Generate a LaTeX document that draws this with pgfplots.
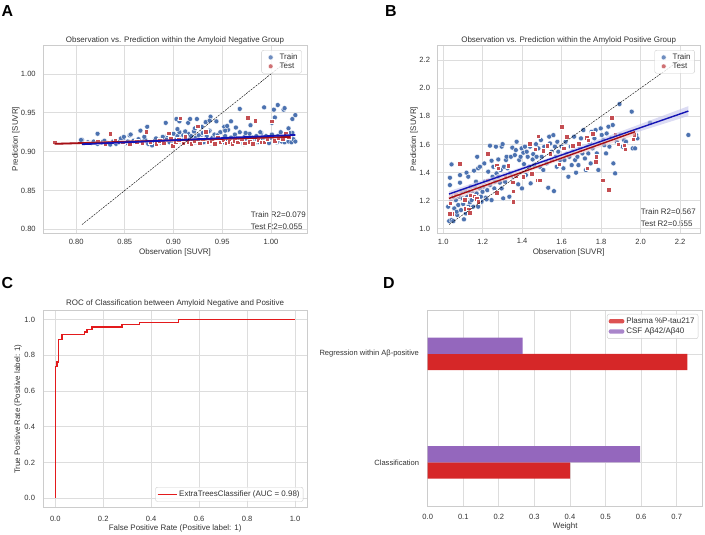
\documentclass[border=0pt]{standalone}
\usepackage{fontspec}
\setmainfont{Liberation Sans}
\usepackage{pgfplots}
\pgfplotsset{compat=1.18}
\definecolor{trainblue}{HTML}{4C72B0}
\definecolor{testred}{HTML}{C44E52}
\definecolor{lineblue}{HTML}{1414B4}
\definecolor{linered}{HTML}{A50F15}
\definecolor{rocred}{HTML}{E31A1C}
\definecolor{barred}{HTML}{D62728}
\definecolor{barpurple}{HTML}{9467BD}
\definecolor{gridc}{HTML}{DDDDDD}
\definecolor{framec}{HTML}{CCCCCC}
\definecolor{textc}{HTML}{333333}
\pgfplotsset{
 sns/.style={
  scale only axis,
  clip marker paths=true,
  axis line style={draw=framec, line width=0.9bp},
  grid=major,
  grid style={draw=gridc, line width=0.8bp},
  major tick length=0pt,
  tick style={draw=none},
  tick label style={font=\fontsize{7.6}{9}\selectfont, text=textc},
  xticklabel style={yshift=-2.2bp},
  yticklabel style={xshift=-3.8bp},
  label style={font=\fontsize{8}{9.6}\selectfont, text=textc},
  /pgf/number format/assume math mode=true,
  legend style={font=\fontsize{8}{9.6}\selectfont, text=textc, draw=framec, rounded corners=2bp, fill=white, fill opacity=0.8, text opacity=1},
  legend cell align=left,
 },
 scatlegend/.style={
  legend style={inner xsep=2bp, inner ysep=1.5bp, row sep=-2.2bp},
 },
 trainm/.style={only marks, mark=*, mark size=2.5bp, mark options={fill=trainblue, draw=white, line width=0.35bp},
   legend image code/.code={\path[draw=none, fill=none] (0bp,0bp) -- (14bp,0bp); \path[draw=white, line width=0.35bp, fill=trainblue] (7bp,0bp) circle[radius=2.5bp];}},
 testm/.style={only marks, mark=square*, mark size=2.3bp, mark options={fill=testred, draw=white, line width=0.35bp},
   legend image code/.code={\path[draw=none, fill=none] (0bp,0bp) -- (14bp,0bp); \path[draw=white, line width=0.35bp, fill=testred] (4.7bp,-2.3bp) rectangle (9.3bp,2.3bp);}},
}
\begin{document}
\begin{tikzpicture}
\path[use as bounding box] (0,0) rectangle (705bp,535bp);
% panel letters
\node[anchor=base west, inner sep=0pt, font=\fontsize{16}{16}\selectfont\bfseries] at (1.5bp,518.8bp) {A};
\node[anchor=base west, inner sep=0pt, font=\fontsize{16}{16}\selectfont\bfseries] at (385bp,518.8bp) {B};
\node[anchor=base west, inner sep=0pt, font=\fontsize{16}{16}\selectfont\bfseries] at (1.5bp,246.5bp) {C};
\node[anchor=base west, inner sep=0pt, font=\fontsize{16}{16}\selectfont\bfseries] at (383bp,246.7bp) {D};
% titles
\node[anchor=base, inner sep=0pt, font=\fontsize{8}{9.6}\selectfont, text=textc] at (175bp,492.8bp) {Observation vs. Prediction within the Amyloid Negative Group};
\node[anchor=base, inner sep=0pt, font=\fontsize{8}{9.6}\selectfont, text=textc] at (568.7bp,492.8bp) {Observation vs. Prediction within the Amyloid Positive Group};
\node[anchor=base, inner sep=0pt, font=\fontsize{8}{9.6}\selectfont, text=textc] at (175.2bp,229.4bp) {ROC of Classification between Amyloid Negative and Positive};
% R2 texts
\node[anchor=base west, inner sep=0pt, font=\fontsize{8}{9.6}\selectfont, text=textc] at (250.7bp,317.8bp) {Train R2=0.079};
\node[anchor=base west, inner sep=0pt, font=\fontsize{8}{9.6}\selectfont, text=textc] at (250.7bp,305.4bp) {Test R2=0.055};
\node[anchor=base west, inner sep=0pt, font=\fontsize{8}{9.6}\selectfont, text=textc] at (640.7bp,320.4bp) {Train R2=0.567};
\node[anchor=base west, inner sep=0pt, font=\fontsize{8}{9.6}\selectfont, text=textc] at (640.7bp,308.8bp) {Test R2=0.555};

%================ A ================
\begin{axis}[sns, scatlegend, at={(43bp,302bp)}, anchor=south west, width=264bp, height=188bp,
  xmin=0.766, xmax=1.037, ymin=0.7952, ymax=1.0373,
  xtick={0.80,0.85,0.90,0.95,1.00}, ytick={0.80,0.85,0.90,0.95,1.00},
  xticklabel style={/pgf/number format/.cd, fixed, fixed zerofill, precision=2},
  yticklabel style={/pgf/number format/.cd, fixed, fixed zerofill, precision=2},
  xlabel={Observation [SUVR]}, ylabel={Prediction [SUVR]},
  xlabel style={at={(axis description cs:0.5,-0.1165)}, anchor=base},
  ylabel style={at={(axis description cs:-0.0951,0.5)}, anchor=base},
  legend style={at={(axis description cs:0.98,0.973)}, anchor=north east},
]
\addplot[trainm] table {
0.806 0.915
0.812 0.912
0.815 0.911
0.818 0.913
0.822 0.910
0.826 0.912
0.829 0.914
0.832 0.911
0.835 0.909
0.838 0.913
0.841 0.910
0.844 0.912
0.848 0.915
0.851 0.911
0.853 0.913
0.856 0.910
0.859 0.914
0.861 0.912
0.864 0.916
0.866 0.911
0.869 0.913
0.871 0.915
0.874 0.910
0.876 0.912
0.878 0.908
0.880 0.914
0.882 0.917
0.884 0.912
0.886 0.915
0.888 0.911
0.889 0.919
0.891 0.913
0.893 0.916
0.894 0.921
0.896 0.912
0.897 0.918
0.899 0.914
0.900 0.923
0.901 0.911
0.903 0.916
0.904 0.920
0.905 0.913
0.906 0.925
0.908 0.917
0.909 0.912
0.910 0.921
0.911 0.915
0.912 0.918
0.914 0.913
0.915 0.923
0.916 0.911
0.917 0.916
0.918 0.920
0.920 0.914
0.921 0.926
0.922 0.912
0.923 0.918
0.925 0.915
0.926 0.921
0.927 0.913
0.929 0.917
0.930 0.924
0.931 0.912
0.933 0.916
0.934 0.920
0.935 0.914
0.937 0.927
0.938 0.911
0.940 0.918
0.941 0.915
0.942 0.922
0.944 0.912
0.945 0.917
0.947 0.913
0.948 0.925
0.950 0.916
0.951 0.912
0.953 0.920
0.954 0.914
0.956 0.928
0.957 0.911
0.959 0.918
0.960 0.915
0.962 0.913
0.963 0.922
0.965 0.917
0.967 0.912
0.968 0.925
0.970 0.914
0.972 0.910
0.973 0.919
0.975 0.916
0.976 0.912
0.978 0.923
0.980 0.914
0.981 0.918
0.983 0.911
0.985 0.920
0.986 0.915
0.988 0.912
0.990 0.924
0.991 0.917
0.993 0.913
0.995 0.920
0.996 0.915
0.998 0.911
1.000 0.918
1.001 0.922
1.003 0.913
1.004 0.917
1.006 0.912
1.007 0.920
1.009 0.915
1.010 0.925
1.011 0.913
1.013 0.918
1.014 0.912
1.016 0.921
1.017 0.915
1.018 0.913
1.020 0.919
1.021 0.912
1.022 0.924
1.023 0.916
1.025 0.913
0.805 0.915
0.822 0.923
0.846 0.917
0.849 0.919
0.855 0.921
0.856 0.922
0.866 0.927
0.870 0.919
0.873 0.932
0.892 0.937
0.903 0.942
0.904 0.929
0.906 0.939
0.912 0.926
0.915 0.937
0.917 0.942
0.922 0.930
0.924 0.942
0.929 0.932
0.933 0.938
0.936 0.926
0.938 0.945
0.937 0.940
0.944 0.939
0.945 0.921
0.952 0.932
0.953 0.927
0.955 0.933
0.959 0.939
0.964 0.931
0.968 0.955
0.974 0.924
0.979 0.934
0.989 0.925
0.993 0.957
1.001 0.937
1.003 0.954
1.004 0.944
1.007 0.960
1.013 0.954
1.014 0.956
1.018 0.930
1.019 0.924
1.022 0.942
1.025 0.947
};
\addlegendentry{Train}
\addplot[testm] table {
0.778 0.912
0.812 0.911
0.822 0.913
0.830 0.910
0.835 0.923
0.840 0.914
0.848 0.912
0.855 0.910
0.862 0.913
0.868 0.911
0.872 0.926
0.876 0.913
0.882 0.910
0.886 0.914
0.890 0.911
0.895 0.924
0.897 0.917
0.899 0.908
0.902 0.912
0.905 0.915
0.907 0.943
0.910 0.911
0.912 0.919
0.915 0.913
0.918 0.910
0.921 0.914
0.925 0.933
0.927 0.911
0.930 0.916
0.933 0.926
0.936 0.912
0.939 0.914
0.942 0.910
0.945 0.918
0.948 0.912
0.951 0.915
0.954 0.911
0.957 0.913
0.960 0.910
0.963 0.914
0.966 0.912
0.970 0.916
0.973 0.911
0.976 0.944
0.978 0.913
0.981 0.910
0.984 0.940
0.987 0.915
0.990 0.912
0.993 0.912
0.996 0.917
1.001 0.939
1.004 0.914
1.008 0.918
1.012 0.916
1.015 0.924
1.018 0.919
};
\addlegendentry{Test}
\addplot[forget plot, fill=testred!40, draw=none, opacity=0.6] coordinates {(0.778,0.9085) (1.020,0.9175) (1.020,0.9205) (0.778,0.9115)};
\addplot[forget plot, linered, line width=1.8bp] coordinates {(0.778,0.910) (1.020,0.919)};
\addplot[forget plot, lineblue, line width=1.8bp] coordinates {(0.806,0.9095) (1.025,0.9215)};
\addplot[forget plot, black, line width=0.4bp, dash pattern=on 2bp off 1bp] coordinates {(0.806,0.806) (1.025,1.025)};
\end{axis}

%================ B ================
\begin{axis}[sns, scatlegend, at={(437.3bp,302bp)}, anchor=south west, width=262.7bp, height=188bp,
  xmin=0.970, xmax=2.301, ymin=0.970, ymax=2.307,
  xtick={1.0,1.2,1.4,1.6,1.8,2.0,2.2}, ytick={1.0,1.2,1.4,1.6,1.8,2.0,2.2},
  xticklabel style={/pgf/number format/.cd, fixed, fixed zerofill, precision=1},
  yticklabel style={/pgf/number format/.cd, fixed, fixed zerofill, precision=1},
  xlabel={Observation [SUVR]}, ylabel={Prediction [SUVR]},
  xlabel style={at={(axis description cs:0.5,-0.1165)}, anchor=base},
  ylabel style={at={(axis description cs:-0.0803,0.5)}, anchor=base},
  legend style={at={(axis description cs:0.98,0.973)}, anchor=north east},
]
\addplot[trainm] table {
1.042 1.458
1.034 1.363
1.034 1.311
1.030 1.055
1.042 1.062
1.051 1.055
1.064 1.204
1.071 1.098
1.085 1.328
1.085 1.382
1.093 1.268
1.101 1.176
1.105 1.067
1.118 1.399
1.127 1.370
1.127 1.157
1.135 1.188
1.139 1.299
1.144 1.204
1.156 1.413
1.161 1.299
1.166 1.335
1.172 1.512
1.177 1.430
1.186 1.441
1.191 1.228
1.194 1.192
1.203 1.299
1.208 1.465
1.216 1.221
1.220 1.209
1.237 1.591
1.245 1.484
1.250 1.370
1.259 1.287
1.267 1.584
1.270 1.394
1.279 1.493
1.287 1.328
1.296 1.584
1.301 1.602
1.304 1.216
1.308 1.441
1.318 1.489
1.321 1.512
1.335 1.228
1.338 1.394
1.343 1.512
1.350 1.577
1.355 1.370
1.363 1.524
1.368 1.560
1.372 1.619
1.380 1.316
1.385 1.489
1.392 1.512
1.397 1.572
1.399 1.287
1.406 1.541
1.409 1.460
1.414 1.584
1.419 1.382
1.423 1.548
1.428 1.512
1.436 1.441
1.440 1.584
1.443 1.323
1.453 1.493
1.456 1.531
1.461 1.453
1.470 1.602
1.473 1.512
1.482 1.572
1.490 1.441
1.495 1.631
1.499 1.512
1.507 1.418
1.512 1.584
1.524 1.465
1.532 1.292
1.537 1.655
1.541 1.607
1.549 1.548
1.558 1.666
1.561 1.268
1.566 1.584
1.571 1.512
1.575 1.441
1.578 1.619
1.583 1.548
1.592 1.489
1.600 1.584
1.609 1.430
1.614 1.489
1.620 1.619
1.625 1.531
1.634 1.370
1.639 1.512
1.646 1.584
1.651 1.453
1.656 1.548
1.663 1.655
1.668 1.489
1.673 1.399
1.680 1.512
1.685 1.453
1.693 1.584
1.698 1.643
1.705 1.536
1.710 1.702
1.718 1.500
1.723 1.418
1.730 1.584
1.735 1.536
1.744 1.607
1.747 1.465
1.752 1.690
1.757 1.572
1.766 1.643
1.772 1.702
1.778 1.536
1.786 1.418
1.791 1.607
1.798 1.714
1.803 1.667
1.811 1.631
1.816 1.595
1.825 1.536
1.828 1.678
1.837 1.726
1.842 1.584
1.849 1.643
1.859 1.738
1.862 1.465
1.871 1.394
1.879 1.619
1.893 1.887
1.899 1.667
1.909 1.584
1.916 1.631
1.926 1.619
1.955 1.833
1.960 1.572
1.972 1.572
1.977 1.667
1.984 1.643
2.048 1.754
2.242 1.667
1.025 1.157
1.039 1.192
1.051 1.228
1.056 1.145
1.068 1.121
1.076 1.169
1.081 1.228
1.090 1.133
1.098 1.216
1.110 1.275
1.115 1.109
1.122 1.228
1.132 1.263
1.149 1.252
1.152 1.157
1.169 1.252
1.177 1.157
1.186 1.287
1.199 1.263
1.211 1.335
1.223 1.275
1.228 1.406
1.237 1.311
1.245 1.204
1.254 1.441
1.262 1.335
1.279 1.370
1.291 1.418
1.296 1.287
1.313 1.335
1.326 1.430
};
\addlegendentry{Train}
\addplot[testm] table {
1.083 1.465
1.035 1.181
1.046 1.109
1.034 1.109
1.064 1.245
1.110 1.209
1.113 1.145
1.130 1.138
1.135 1.114
1.139 1.240
1.156 1.233
1.169 1.216
1.177 1.192
1.225 1.346
1.225 1.536
1.270 1.453
1.279 1.430
1.270 1.256
1.313 1.370
1.330 1.448
1.352 1.330
1.355 1.268
1.355 1.192
1.367 1.375
1.406 1.370
1.439 1.607
1.448 1.394
1.465 1.565
1.482 1.659
1.478 1.346
1.490 1.346
1.507 1.555
1.527 1.591
1.541 1.536
1.549 1.489
1.588 1.460
1.600 1.726
1.609 1.572
1.625 1.655
1.656 1.591
1.685 1.607
1.693 1.560
1.727 1.648
1.735 1.631
1.730 1.430
1.757 1.678
1.772 1.477
1.774 1.512
1.808 1.346
1.837 1.280
1.854 1.792
1.871 1.671
1.887 1.603
1.916 1.595
1.921 1.565
1.963 1.636
1.967 1.671
};
\addlegendentry{Test}
\addplot[forget plot, fill=lineblue!25, draw=none, opacity=0.6] coordinates {(1.03,1.2275) (1.5,1.4666) (2.0,1.6948) (2.242,1.802) (2.242,1.872) (2.0,1.7448) (1.5,1.4866) (1.03,1.2675)};
\addplot[forget plot, fill=testred!30, draw=none, opacity=0.6] coordinates {(1.029,1.191) (1.5,1.4408) (1.972,1.665) (1.972,1.715) (1.5,1.4648) (1.029,1.241)};
\addplot[forget plot, lineblue, line width=1.4bp] coordinates {(1.029,1.247) (2.242,1.837)};
\addplot[forget plot, linered, line width=1.4bp] coordinates {(1.029,1.216) (1.972,1.690)};
\addplot[forget plot, black, line width=0.4bp, dash pattern=on 2bp off 1bp] coordinates {(1.03,1.03) (2.242,2.242)};
\end{axis}

%================ C ================
\begin{axis}[sns, at={(43.3bp,27.7bp)}, anchor=south west, width=263.7bp, height=196.6bp,
  xmin=-0.05, xmax=1.05, ymin=-0.05, ymax=1.05,
  xtick={0,0.2,0.4,0.6,0.8,1.0}, ytick={0,0.2,0.4,0.6,0.8,1.0},
  xticklabel style={yshift=-3bp, /pgf/number format/.cd, fixed, fixed zerofill, precision=1},
  yticklabel style={xshift=-1bp, /pgf/number format/.cd, fixed, fixed zerofill, precision=1},
  xlabel={False Positive Rate (Positive label: 1)}, ylabel={True Positive Rate (Positive label: 1)},
  xlabel style={at={(axis description cs:0.5,-0.1185)}, anchor=base},
  ylabel style={at={(axis description cs:-0.0876,0.5)}, anchor=base},
  legend style={at={(axis description cs:0.986,0.0285)}, anchor=south east, inner sep=1.5bp},
  legend image code/.code={\draw[#1] (0bp,0bp) -- (19bp,0bp);},
]
\addplot[draw=rocred, line width=1.2bp] coordinates {
(0,0) (0,0.739) (0.007,0.739) (0.007,0.763) (0.014,0.763) (0.014,0.888) (0.028,0.888) (0.028,0.916) (0.123,0.916) (0.123,0.931) (0.132,0.931) (0.132,0.946) (0.153,0.946) (0.153,0.959) (0.278,0.959) (0.278,0.972) (0.352,0.972) (0.352,0.986) (0.515,0.986) (0.515,1.0) (1,1)};
\addlegendentry{ExtraTreesClassifier (AUC = 0.98)}
\end{axis}

%================ D ================
\begin{axis}[sns, at={(427.7bp,29bp)}, anchor=south west, width=275bp, height=196bp,
  xmin=0, xmax=0.773, ymin=-0.403, ymax=1.406,
  xtick={0,0.1,0.2,0.3,0.4,0.5,0.6,0.7}, ytick={0,1},
  yticklabels={Classification, Regression within Aβ-positive},
  xticklabel style={yshift=-2.3bp, /pgf/number format/.cd, fixed, fixed zerofill, precision=1},
  yticklabel style={xshift=-1.4bp},
  xlabel={Weight},
  xlabel style={at={(axis description cs:0.5,-0.1153)}, anchor=base},
  legend style={at={(axis description cs:0.984,0.98)}, anchor=north east, inner sep=1.5bp, row sep=-1bp},
]
\addplot[xbar, bar width=0.15, bar shift=0pt, fill=barred, draw=none,
  legend image code/.code={\fill[barred] (0bp,-2.2bp) rectangle (15.7bp,2.2bp);}] coordinates {(0.40,-0.075) (0.73,0.925)};
\addlegendentry{Plasma \%P-tau217}
\addplot[xbar, bar width=0.15, bar shift=0pt, fill=barpurple, draw=none,
  legend image code/.code={\fill[barpurple] (0bp,-2.2bp) rectangle (15.7bp,2.2bp);}] coordinates {(0.597,0.075) (0.267,1.075)};
\addlegendentry{CSF Aβ42/Aβ40}
\end{axis}
\end{tikzpicture}
\end{document}
